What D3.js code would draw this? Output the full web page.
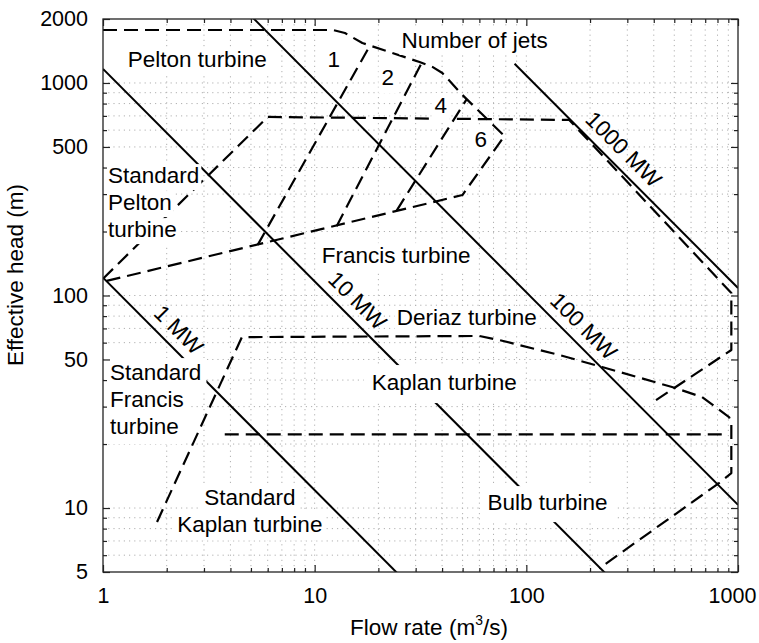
<!DOCTYPE html>
<html>
<head>
<meta charset="utf-8">
<script src="https://cdn.jsdelivr.net/npm/d3@7"></script>
<style>
  body { margin: 0; background: #fff; }
  text { font-family: "Liberation Sans", Arial, Helvetica, sans-serif; fill: #000; }
</style>
</head>
<body>
<svg id="chart" width="759" height="643"></svg>
<script>
// ---------- data ----------
// labelled axis ticks
const flowTicks = [1, 10, 100, 1000];
const headTicks = [5, 10, 50, 100, 500, 1000, 2000];

// iso-power lines: P = rho * g * Q * H * eta
const powerMW = [1, 10, 100, 1000];
const powerEfficiency = [0.84, 0.875, 0.985, 0.94];
const powerFlowStart = [1, 1, 1, 88];       // m3/s where each line begins
const powerLabelFlow = [2.0, 14, 164, 253];  // m3/s where each line is labelled

// dashed application ranges, [flow m3/s, head m]
const peltonRange = [[1, 1775], [12.2, 1775], [13.9, 1718], [16.8, 1542], [31.3, 1255],
                     [36, 1190], [40.1, 1114], [49.9, 878], [78.8, 563], [49.9, 297], [1, 116]];
const jetDivider1 = [[5.38, 173], [18.2, 1493]];
const jetDivider2 = [[12.7, 212], [32.0, 1241]];
const jetDivider3 = [[24.4, 251], [52.1, 835]];
const francisRange = [[1, 120], [6.0, 692], [159.5, 670], [930, 102.7], [930, 55.4], [410, 32.2]];
const kaplanRange = [[1.80, 8.6], [4.53, 63.7], [60, 64.5], [74.6, 61.7], [143, 52.5], [228, 46.1],
                     [488, 37.1], [676, 33.3], [907, 26.8], [930, 25.4], [930, 14.6], [813, 13.1], [221, 5.2]];
const bulbRange = [[3.76, 22.2], [890, 22.2]];

// ---------- layout ----------
const plot = { left: 103, right: 738, top: 19, bottom: 572 };
const FONT = 22.5;
const TICK_FONT = 21.5;

const x = d3.scaleLog().domain([1, 1000]).range([plot.left, plot.right]);
const y = d3.scaleLog().domain([5, 2000]).range([plot.bottom, plot.top]);
const svg = d3.select("#chart");

svg.append("defs").append("clipPath").attr("id", "plotClip")
  .append("rect")
  .attr("x", plot.left).attr("y", plot.top)
  .attr("width", plot.right - plot.left).attr("height", plot.bottom - plot.top);

// dotted grid at every decade subdivision
const gridG = svg.append("g")
  .attr("stroke", "#b0b0b0").attr("stroke-width", 1).attr("stroke-dasharray", "1.2,4");
x.ticks().filter(v => v > 1 && v < 1000).forEach(v => {
  gridG.append("line").attr("x1", x(v)).attr("x2", x(v)).attr("y1", plot.top).attr("y2", plot.bottom);
});
y.ticks().filter(v => v > 5 && v < 2000).forEach(v => {
  gridG.append("line").attr("y1", y(v)).attr("y2", y(v)).attr("x1", plot.left).attr("x2", plot.right);
});

const line = d3.line().x(d => x(d[0])).y(d => y(d[1]));
const marks = svg.append("g").attr("clip-path", "url(#plotClip)").attr("fill", "none");

// iso-power lines
const RHO_G = 1000 * 9.81;
const flowHead = powerMW.map((p, i) => p * 1e6 / (RHO_G * powerEfficiency[i]));
flowHead.forEach((k, i) => {
  const q0 = powerFlowStart[i];
  marks.append("path")
    .attr("d", line([[q0, k / q0], [1000, k / 1000]]))
    .attr("stroke", "#000").attr("stroke-width", 2);
});

// application ranges
[peltonRange, jetDivider1, jetDivider2, jetDivider3, francisRange, kaplanRange, bulbRange]
  .forEach(pts => {
    marks.append("path")
      .attr("d", line(pts))
      .attr("stroke", "#000").attr("stroke-width", 2.2)
      .attr("stroke-dasharray", "14,7").attr("stroke-linejoin", "round");
  });

// region labels (white boxes break the lines they sit on)
const labelPlacement = [
  { text: ["Pelton turbine"], at: [1.31, 1189] },
  { text: ["1"], at: [11.5, 1189] },
  { text: ["2"], at: [20.7, 977] },
  { text: ["Number of jets"], at: [25.7, 1461], pad: 2 },
  { text: ["4"], at: [36.8, 722] },
  { text: ["6"], at: [56.9, 500] },
  { text: ["Standard", "Pelton", "turbine"], at: [1.056, 338], pad: 2 },
  { text: ["Francis turbine"], at: [10.8, 142] },
  { text: ["Deriaz turbine"], at: [24.4, 72.6], pad: 2 },
  { text: ["Standard", "Francis", "turbine"], at: [1.08, 40], pad: 5 },
  { text: ["Kaplan turbine"], at: [18.6, 35.9], pad: 8 },
  { text: ["Standard", "Kaplan turbine"], at: [4.94, 10.3], anchor: "middle" },
  { text: ["Bulb turbine"], at: [65.5, 9.78], pad: 7 }
];
const labelsG = svg.append("g");
labelPlacement.forEach(lab => {
  const pad = lab.pad !== undefined ? lab.pad : 3;
  lab.text.forEach((s, i) => {
    const g = labelsG.append("g");
    const t = g.append("text")
      .attr("x", x(lab.at[0]))
      .attr("y", y(lab.at[1]) + i * 27)
      .attr("text-anchor", lab.anchor || "start")
      .attr("font-size", FONT)
      .text(s);
    const b = t.node().getBBox();
    g.insert("rect", "text")
      .attr("x", b.x - pad).attr("y", b.y + 3 - pad)
      .attr("width", b.width + 2 * pad).attr("height", b.height - 3 + 2 * pad)
      .attr("fill", "#fff");
  });
});

// power labels, rotated along their lines
const OFFSET = 17;
flowHead.forEach((k, i) => {
  const q = powerLabelFlow[i];
  const px = x(q) + OFFSET / Math.SQRT2;
  const py = y(k / q) - OFFSET / Math.SQRT2;
  svg.append("text")
    .attr("transform", `translate(${px},${py}) rotate(45)`)
    .attr("text-anchor", "middle")
    .attr("dy", "0.35em")
    .attr("font-size", FONT)
    .text(`${powerMW[i]} MW`);
});

// axes: ticks point inward on all four sides
const allFlow = x.ticks();
const allHead = y.ticks();
const minorFlow = allFlow.filter(v => !flowTicks.includes(v));
const minorHead = allHead.filter(v => !headTicks.includes(v));

function styleAxis(g) {
  g.select(".domain").remove();
  g.selectAll(".tick line").attr("stroke", "#222").attr("stroke-width", 1.2);
  g.selectAll("text").attr("font-size", TICK_FONT).attr("fill", "#000")
    .attr("font-family", '"Liberation Sans", Arial, Helvetica, sans-serif');
}
const axisSpecs = [
  [d3.axisBottom, x, `translate(0,${plot.bottom})`, flowTicks, minorFlow, true],
  [d3.axisTop, x, `translate(0,${plot.top})`, flowTicks, minorFlow, false],
  [d3.axisLeft, y, `translate(${plot.left},0)`, headTicks, minorHead, true],
  [d3.axisRight, y, `translate(${plot.right},0)`, headTicks, minorHead, false]
];
axisSpecs.forEach(([gen, sc, tr, major, minor, withLabels]) => {
  svg.append("g").attr("transform", tr)
    .call(gen(sc).tickValues(minor).tickSizeInner(-4).tickSizeOuter(0).tickFormat(""))
    .call(styleAxis);
  const g = svg.append("g").attr("transform", tr)
    .call(gen(sc).tickValues(major).tickSizeInner(-7).tickSizeOuter(0)
      .tickPadding(gen === d3.axisLeft ? 15 : 16)
      .tickFormat(withLabels ? d3.format("d") : ""))
    .call(styleAxis);
  // keep the last flow label inside the canvas
  if (gen === d3.axisBottom) {
    g.selectAll(".tick text").filter(d => d === 1000).attr("dx", -6);
  }
});

// frame
svg.append("rect")
  .attr("x", plot.left).attr("y", plot.top)
  .attr("width", plot.right - plot.left).attr("height", plot.bottom - plot.top)
  .attr("fill", "none").attr("stroke", "#222").attr("stroke-width", 1.3);

// axis titles
const xTitle = svg.append("text")
  .attr("x", 429).attr("y", 635)
  .attr("text-anchor", "middle").attr("font-size", FONT);
xTitle.append("tspan").text("Flow rate (m");
xTitle.append("tspan").attr("font-size", FONT * 0.62).attr("dy", "-0.7em").text("3");
xTitle.append("tspan").attr("dy", "0.43em").text("/s)");

svg.append("text")
  .attr("transform", "translate(23,275) rotate(-90)")
  .attr("text-anchor", "middle").attr("font-size", FONT)
  .text("Effective head (m)");
</script>
</body>
</html>
